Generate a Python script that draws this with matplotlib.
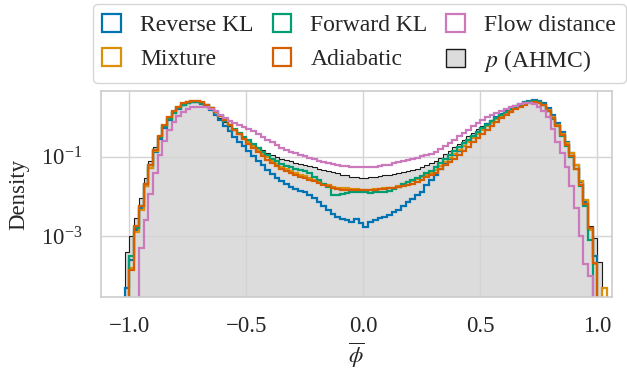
import numpy as np
import matplotlib
matplotlib.use("Agg")
import matplotlib.pyplot as plt
from matplotlib.patches import Patch
from matplotlib.ticker import NullLocator

plt.rcParams["font.family"] = ["Liberation Serif", "DejaVu Serif"]
plt.rcParams["mathtext.fontset"] = "stix"
plt.rcParams["text.color"] = "#262626"
plt.rcParams["xtick.color"] = "#262626"
plt.rcParams["ytick.color"] = "#262626"
plt.rcParams["axes.labelcolor"] = "#262626"

# histogram bins of the magnetisation phi-bar
bin_edges = np.linspace(-1.04, 1.04, 105)

# log10 of the density in each bin (None = empty bin), ten bins per row
log_reverse_kl = [
    None, -4.30, -3.60, -2.85, -2.30, -1.75, -1.28, -0.88, -0.55, -0.28,
    -0.07, 0.09, 0.21, 0.29, 0.34, 0.37, 0.37, 0.33, 0.27, 0.18,
    0.05, -0.08, -0.22, -0.36, -0.50, -0.62, -0.74, -0.86, -0.98, -1.10,
    -1.22, -1.33, -1.43, -1.53, -1.62, -1.70, -1.76, -1.81, -1.86, -1.90,
    -1.97, -2.05, -2.14, -2.24, -2.35, -2.45, -2.52, -2.56, -2.60, -2.64,
    -2.56, -2.66, -2.77, -2.64, -2.60, -2.55, -2.51, -2.46, -2.40, -2.34,
    -2.25, -2.15, -2.06, -1.97, -1.88, -1.72, -1.58, -1.45, -1.30, -1.18,
    -1.07, -0.97, -0.85, -0.73, -0.61, -0.49, -0.38, -0.28, -0.19, -0.10,
    -0.01, 0.07, 0.14, 0.21, 0.27, 0.32, 0.37, 0.41, 0.43, 0.41,
    0.34, 0.22, 0.05, -0.15, -0.38, -0.62, -0.90, -1.22, -1.65, -2.15,
    -2.80, -3.50, None, None,
]
log_mixture = [
    None, None, -3.80, -2.90, -2.35, -1.75, -1.28, -0.85, -0.50, -0.23,
    -0.02, 0.13, 0.24, 0.32, 0.37, 0.40, 0.39, 0.36, 0.30, 0.22,
    0.12, 0.02, -0.09, -0.21, -0.32, -0.43, -0.53, -0.63, -0.73, -0.83,
    -0.93, -1.02, -1.11, -1.19, -1.26, -1.32, -1.37, -1.41, -1.45, -1.49,
    -1.53, -1.58, -1.63, -1.68, -1.72, -1.76, -1.78, -1.80, -1.80, -1.82,
    -1.82, -1.84, -1.83, -1.84, -1.82, -1.81, -1.80, -1.80, -1.78, -1.75,
    -1.70, -1.65, -1.62, -1.57, -1.52, -1.46, -1.40, -1.33, -1.24, -1.13,
    -1.03, -0.93, -0.83, -0.73, -0.63, -0.53, -0.43, -0.33, -0.24, -0.15,
    -0.06, 0.03, 0.11, 0.18, 0.24, 0.30, 0.34, 0.38, 0.40, 0.37,
    0.30, 0.17, 0.00, -0.20, -0.42, -0.65, -0.92, -1.22, -1.62, -2.10,
    -2.85, -3.70, None, -4.32,
]
log_forward_kl = [
    None, None, -3.50, -2.80, -2.25, -1.70, -1.22, -0.82, -0.50, -0.24,
    -0.04, 0.11, 0.22, 0.30, 0.35, 0.37, 0.37, 0.34, 0.29, 0.22,
    0.12, 0.02, -0.09, -0.20, -0.31, -0.41, -0.50, -0.59, -0.68, -0.77,
    -0.88, -0.97, -1.05, -1.12, -1.18, -1.23, -1.27, -1.31, -1.34, -1.37,
    -1.42, -1.50, -1.60, -1.68, -1.76, -1.96, -1.97, -1.95, -1.92, -1.90,
    -1.88, -1.88, -1.90, -1.92, -1.90, -1.89, -1.88, -1.86, -1.82, -1.77,
    -1.70, -1.64, -1.59, -1.54, -1.49, -1.42, -1.36, -1.27, -1.16, -1.05,
    -0.95, -0.86, -0.76, -0.66, -0.57, -0.48, -0.38, -0.29, -0.20, -0.11,
    -0.03, 0.05, 0.12, 0.19, 0.25, 0.30, 0.35, 0.38, 0.40, 0.37,
    0.29, 0.15, -0.04, -0.24, -0.48, -0.72, -1.00, -1.32, -1.75, -2.25,
    -3.10, None, None, None,
]
log_adiabatic = [
    None, None, -3.85, -2.75, -2.25, -1.68, -1.22, -0.82, -0.48, -0.20,
    0.00, 0.15, 0.26, 0.34, 0.38, 0.41, 0.40, 0.37, 0.31, 0.23,
    0.13, 0.03, -0.08, -0.20, -0.32, -0.44, -0.56, -0.67, -0.78, -0.89,
    -0.99, -1.08, -1.16, -1.24, -1.31, -1.37, -1.42, -1.46, -1.50, -1.54,
    -1.58, -1.62, -1.67, -1.71, -1.75, -1.78, -1.81, -1.83, -1.84, -1.84,
    -1.85, -1.84, -1.84, -1.83, -1.83, -1.82, -1.81, -1.80, -1.79, -1.76,
    -1.74, -1.71, -1.68, -1.64, -1.58, -1.52, -1.46, -1.40, -1.32, -1.22,
    -1.13, -1.05, -0.96, -0.86, -0.76, -0.64, -0.53, -0.42, -0.32, -0.22,
    -0.12, -0.03, 0.05, 0.12, 0.19, 0.25, 0.30, 0.35, 0.38, 0.36,
    0.29, 0.16, -0.02, -0.22, -0.45, -0.70, -0.98, -1.30, -1.72, -2.20,
    -2.80, -3.69, None, None,
]
log_flow_distance = [
    None, None, None, None, -3.30, -2.60, -1.95, -1.40, -0.95, -0.60,
    -0.33, -0.12, 0.03, 0.13, 0.20, 0.24, 0.26, 0.26, 0.24, 0.20,
    0.14, 0.06, -0.02, -0.09, -0.15, -0.20, -0.25, -0.30, -0.36, -0.42,
    -0.50, -0.57, -0.64, -0.71, -0.77, -0.83, -0.88, -0.92, -0.96, -0.99,
    -1.03, -1.07, -1.11, -1.14, -1.17, -1.19, -1.21, -1.23, -1.24, -1.26,
    -1.27, -1.27, -1.27, -1.26, -1.25, -1.24, -1.22, -1.20, -1.17, -1.14,
    -1.11, -1.09, -1.06, -1.03, -0.99, -0.96, -0.93, -0.88, -0.80, -0.72,
    -0.65, -0.57, -0.49, -0.41, -0.32, -0.23, -0.15, -0.08, -0.01, 0.06,
    0.11, 0.16, 0.20, 0.24, 0.28, 0.32, 0.35, 0.35, 0.32, 0.25,
    0.16, 0.00, -0.30, -0.62, -0.92, -1.25, -1.75, -2.30, -3.00, -3.70,
    -4.00, None, None, None,
]
log_ahmc = [
    None, -3.40, -3.00, -2.55, -2.05, -1.55, -1.12, -0.75, -0.45, -0.20,
    -0.01, 0.13, 0.24, 0.31, 0.36, 0.38, 0.37, 0.34, 0.28, 0.20,
    0.08, -0.02, -0.13, -0.24, -0.34, -0.43, -0.52, -0.60, -0.68, -0.76,
    -0.84, -0.90, -0.96, -1.01, -1.05, -1.09, -1.12, -1.15, -1.18, -1.21,
    -1.24, -1.27, -1.31, -1.33, -1.36, -1.39, -1.42, -1.45, -1.47, -1.50,
    -1.52, -1.53, -1.53, -1.52, -1.51, -1.49, -1.47, -1.45, -1.43, -1.41,
    -1.39, -1.36, -1.33, -1.30, -1.26, -1.22, -1.17, -1.11, -1.03, -0.94,
    -0.85, -0.76, -0.67, -0.58, -0.49, -0.40, -0.31, -0.23, -0.15, -0.07,
    0.01, 0.08, 0.15, 0.22, 0.28, 0.33, 0.37, 0.40, 0.41, 0.37,
    0.29, 0.16, -0.02, -0.20, -0.45, -0.65, -0.90, -1.22, -1.62, -2.10,
    -2.75, -3.05, -3.65, None,
]

series_labels = ["Reverse KL", "Mixture", "Forward KL", "Adiabatic", "Flow distance"]
series_logs = [log_reverse_kl, log_mixture, log_forward_kl, log_adiabatic, log_flow_distance]
series_colors = ["#0173B2", "#DE8F05", "#029E73", "#D55E00", "#CC78BC"]


def density(log_values):
    arr = np.array(log_values, dtype=float)
    return np.where(np.isnan(arr), 0.0, np.power(10.0, arr))


fig = plt.figure(figsize=(6.27, 3.70), dpi=100)
ax = fig.add_axes([0.161, 0.197, 0.815, 0.557])

# target distribution: grey filled histogram with a thin dark outline
ahmc = density(log_ahmc)
ax.stairs(ahmc, bin_edges, fill=True, facecolor="#dcdcdc", edgecolor="none", zorder=0.3)
ax.stairs(ahmc, bin_edges, color="#1a1a1a", linewidth=0.8, zorder=1.5)

for vals, color in zip(series_logs, series_colors):
    ax.stairs(density(vals), bin_edges, color=color, linewidth=1.6, zorder=2)

ax.set_yscale("log")
ax.set_xlim(-1.122, 1.062)
ax.set_ylim(2.9e-5, 4.5)
ax.set_yticks([1e-3, 1e-1])
ax.yaxis.set_minor_locator(NullLocator())
ax.set_xticks([-1.0, -0.5, 0.0, 0.5, 1.0])

ax.set_axisbelow(True)
ax.grid(True, color="#d4d4d4", linewidth=1.0)
for spine in ax.spines.values():
    spine.set_color("#cccccc")
    spine.set_linewidth(1.2)
ax.tick_params(which="both", length=0, labelsize=16.5, pad=13.5)

ax.set_xlabel(r"$\overline{\phi}$", fontsize=16.5, labelpad=3)
ax.set_ylabel("Density", fontsize=16.5, labelpad=8)

handles = [Patch(facecolor="white", edgecolor=c, linewidth=1.6) for c in series_colors]
handles.append(Patch(facecolor="#dcdcdc", edgecolor="#1a1a1a", linewidth=1.0))
labels = series_labels + [r"$p$ (AHMC)"]
fig.legend(handles, labels, ncol=3, loc="upper center", bbox_to_anchor=(0.573, 0.989),
           fontsize=17, handlelength=0.8, handleheight=0.8, handletextpad=0.8,
           columnspacing=0.8, borderaxespad=0, edgecolor="#cccccc", fancybox=True)

fig.savefig("out.png", dpi=100)
